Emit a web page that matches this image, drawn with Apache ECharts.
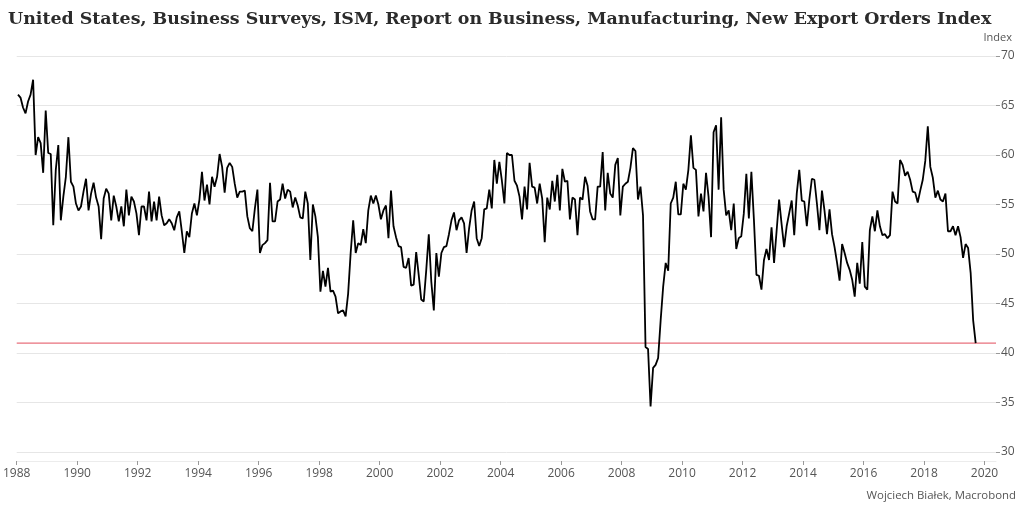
<!DOCTYPE html>
<html>
<head>
<meta charset="utf-8">
<script src="https://cdn.jsdelivr.net/npm/echarts@6/dist/echarts.min.js"></script>
<style>
html,body{margin:0;padding:0;background:#fff;}
#chart{width:1024px;height:513px;}
</style>
</head>
<body>
<div id="chart"></div>
<script>
// Monthly series start
const startYear = 1988;
// ISM New Export Orders Index, monthly values Jan 1988 .. Sep 2019
const values = [
  66.1,65.8,64.8,64.2,65.4,66.1,67.6,60.0,61.8,61.2,58.2,64.5, // 1988
  60.2,60.1,52.9,58.5,61.0,53.4,55.8,57.8,61.8,57.3,56.8,55.1, // 1989
  54.4,54.8,56.3,57.6,54.4,56.1,57.2,55.7,54.8,51.5,55.6,56.6, // 1990
  56.1,53.4,55.9,54.8,53.3,54.8,52.8,56.5,53.9,55.8,55.3,54.1, // 1991
  51.9,54.8,54.8,53.4,56.3,53.3,55.3,53.4,55.8,53.9,52.9,53.1, // 1992
  53.5,53.1,52.4,53.7,54.3,52.3,50.1,52.3,51.7,54.1,55.1,53.9, // 1993
  55.5,58.3,55.4,57.0,55.0,57.8,56.8,57.8,60.1,58.8,56.2,58.7, // 1994
  59.2,58.8,57.1,55.7,56.3,56.3,56.4,53.8,52.6,52.3,54.6,56.5, // 1995
  50.1,50.9,51.1,51.4,57.2,53.3,53.3,55.3,55.5,57.1,55.6,56.5, // 1996
  56.3,54.7,55.7,54.9,53.7,53.6,56.3,55.1,49.4,55.0,53.8,51.7, // 1997
  46.2,48.3,46.7,48.6,46.2,46.3,45.7,44.0,44.2,44.3,43.7,46.0, // 1998
  50.1,53.4,50.1,51.1,50.9,52.5,51.1,54.4,55.9,55.1,55.9,55.0, // 1999
  53.5,54.4,54.9,51.6,56.4,52.8,51.7,50.8,50.7,48.7,48.6,49.6, // 2000
  46.8,46.9,50.2,47.9,45.4,45.2,48.4,52.0,47.2,44.3,50.1,47.7, // 2001
  50.1,50.7,50.8,52.0,53.4,54.2,52.4,53.4,53.7,53.1,50.1,52.6, // 2002
  54.4,55.3,51.6,50.8,51.6,54.5,54.6,56.5,54.6,59.5,57.1,59.3, // 2003
  57.4,55.1,60.2,60.0,60.0,57.4,56.9,55.8,53.5,56.8,54.5,59.2, // 2004
  56.8,56.7,55.1,57.1,55.6,51.2,55.7,54.5,57.4,55.3,58.0,54.4, // 2005
  58.6,57.3,57.4,53.5,55.7,55.5,51.9,55.7,55.5,57.8,56.9,54.3, // 2006
  53.5,53.5,56.8,56.8,60.3,54.4,58.2,56.1,55.7,59.0,59.7,53.9, // 2007
  56.8,57.1,57.3,58.7,60.7,60.4,55.5,56.8,53.9,40.6,40.4,34.6, // 2008
  38.5,38.8,39.5,43.3,46.7,49.1,48.3,55.1,55.7,57.3,54.0,54.0, // 2009
  57.1,56.5,58.5,62.0,58.7,58.5,53.8,56.1,54.3,58.2,55.8,51.7, // 2010
  62.3,63.0,56.5,63.8,56.5,53.9,54.4,52.4,55.1,50.5,51.6,51.8, // 2011
  54.1,58.1,53.6,58.3,53.5,47.9,47.8,46.4,49.4,50.5,49.4,52.7, // 2012
  49.1,52.3,55.5,53.0,50.7,52.8,54.1,55.4,51.9,56.1,58.5,55.4, // 2013
  55.3,52.8,55.5,57.6,57.5,55.1,52.4,56.4,54.4,52.0,54.5,52.0, // 2014
  50.7,49.1,47.3,51.0,50.1,49.1,48.4,47.4,45.7,49.1,47.0,51.2, // 2015
  46.7,46.4,52.4,53.8,52.3,54.4,52.8,51.9,52.0,51.6,51.9,56.3, // 2016
  55.3,55.1,59.5,59.0,57.9,58.3,57.5,56.3,56.2,55.2,56.4,57.5, // 2017
  59.4,62.9,58.8,57.7,55.7,56.4,55.5,55.3,56.1,52.3,52.3,52.8, // 2018
  51.9,52.8,51.7,49.6,51.0,50.6,48.1,43.3,41.0                 // 2019
];
const referenceLevel = 41;
const xMin = 1988;
const xMax = 2020.38;
const xTickYears = [1988,1990,1992,1994,1996,1998,2000,2002,2004,2006,2008,2010,2012,2014,2016,2018,2020];
const yTicks = [30,35,40,45,50,55,60,65,70];

const titleText = 'United States, Business Surveys, ISM, Report on Business, Manufacturing, New Export Orders Index';
const unitText = 'Index';
const sourceText = 'Wojciech Białek, Macrobond';

const seriesData = values.map((v, i) => [startYear + (i + 0.5) / 12, v]);
const refData = [[xMin, referenceLevel], [xMax, referenceLevel]];
const refColor = '#e8707c';

const chart = echarts.init(document.getElementById('chart'), null, {renderer: 'canvas'});
chart.setOption({
  animation: false,
  backgroundColor: '#ffffff',
  title: {
    text: titleText,
    left: 3,
    top: 6,
    textStyle: {fontFamily: 'DejaVu Serif', fontWeight: 'bold', fontSize: 17.4, color: '#2b2b2b'}
  },
  graphic: [
    {type: 'text', right: 12, top: 32, style: {text: unitText, fontFamily: 'Open Sans', fontSize: 11, fill: '#555'}},
    {type: 'text', right: 8, top: 490, style: {text: sourceText, fontFamily: 'Open Sans', fontSize: 11.4, fill: '#555'}}
  ],
  grid: {left: 14, right: 28, top: 56, bottom: 61, containLabel: false},
  xAxis: {
    type: 'value',
    min: xMin,
    max: xMax,
    offset: 9,
    splitLine: {show: false},
    axisLine: {show: true, lineStyle: {color: '#ececec', width: 1}},
    axisTick: {show: true, customValues: xTickYears, length: 4, lineStyle: {color: '#999'}},
    axisLabel: {customValues: xTickYears, formatter: v => String(Math.round(v)), fontFamily: 'Open Sans', fontSize: 12, color: '#555', margin: 7}
  },
  yAxis: {
    type: 'value',
    position: 'right',
    min: 30,
    max: 70,
    interval: 5,
    axisLine: {show: false},
    axisTick: {show: true, length: 4, lineStyle: {color: '#999'}},
    axisLabel: {customValues: yTicks, fontFamily: 'Open Sans', fontSize: 12, color: '#555', margin: 5},
    splitLine: {show: true, lineStyle: {color: '#e6e6e6', width: 1}}
  },
  series: [
    {
      type: 'line',
      data: refData,
      showSymbol: false,
      symbol: 'none',
      silent: true,
      z: 1,
      itemStyle: {color: refColor},
      lineStyle: {color: refColor, width: 1.2}
    },
    {
      type: 'line',
      data: seriesData,
      showSymbol: false,
      symbol: 'none',
      z: 2,
      itemStyle: {color: '#000'},
      lineStyle: {color: '#000', width: 1.8}
    }
  ]
});
</script>
</body>
</html>
